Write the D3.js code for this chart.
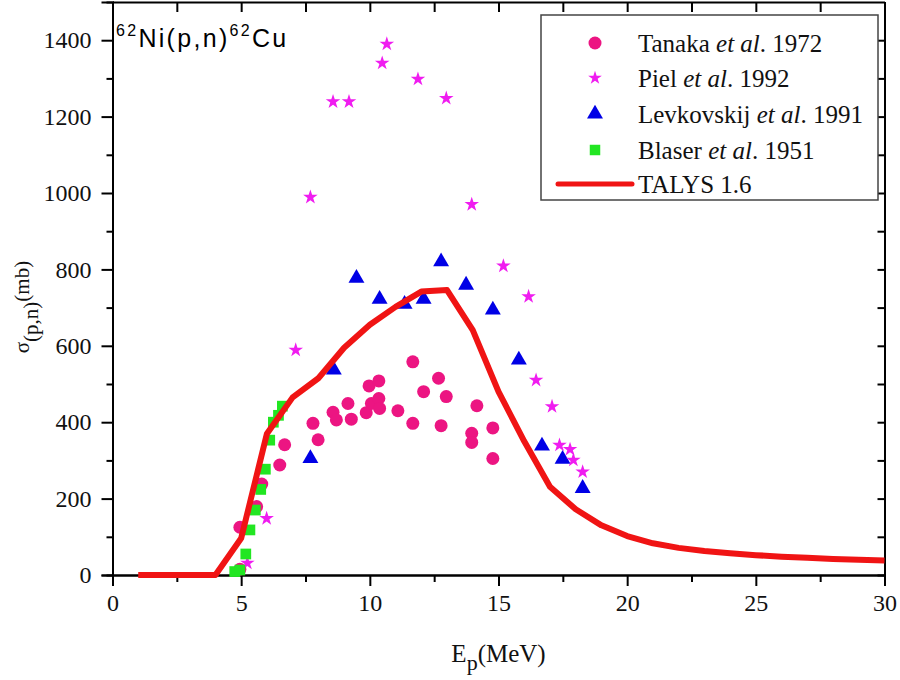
<!DOCTYPE html>
<html>
<head>
<meta charset="utf-8">
<script src="https://cdn.jsdelivr.net/npm/d3@7"></script>
<style>
  html, body { margin: 0; padding: 0; background: #fff; }
  svg { display: block; }
</style>
</head>
<body>
<svg id="chart" width="900" height="680"></svg>
<script>
// Tanaka et al. 1972
const tanakaE = [4.95, 4.95, 5.60, 5.80, 6.50, 6.69, 7.79, 7.99, 8.57, 8.70, 9.15, 9.28, 9.86, 9.97, 10.06,
                 10.35, 10.38, 10.35, 11.09, 11.67, 11.67, 12.09, 12.67, 12.77, 12.97, 13.96, 13.96, 14.16, 14.78, 14.78];
const tanakaS = [15, 125, 179, 238, 288, 341, 397, 354, 426, 406, 449, 408, 425, 495, 449,
                 462, 436, 508, 430, 558, 397, 480, 515, 391, 467, 371, 347, 443, 385, 305];

// Piel et al. 1992
const pielE = [5.24, 5.99, 7.12, 7.69, 8.57, 9.19, 10.48, 10.66, 11.87, 12.97, 13.96, 15.19, 16.17, 16.46, 17.08, 17.37, 17.78, 17.91, 18.27];
const pielS = [31, 148, 589, 989, 1239, 1239, 1340, 1390, 1298, 1248, 970, 809, 729, 510, 441, 340, 329, 301, 270];

// Levkovskij et al. 1991
const levE = [7.69, 8.60, 9.48, 10.38, 11.35, 12.09, 12.77, 13.74, 14.78, 15.79, 16.69, 17.49, 18.27];
const levS = [305, 537, 777, 722, 709, 722, 820, 759, 694, 563, 338, 303, 227];

// Blaser et al. 1951
const blaserE = [4.75, 4.95, 5.18, 5.34, 5.55, 5.76, 5.94, 6.11, 6.25, 6.45, 6.60];
const blaserS = [9, 13, 55, 118, 170, 224, 277, 353, 400, 418, 442];

// TALYS 1.6 calculation
const talysE = [1, 2, 3, 4, 5, 6, 7, 8, 9, 10, 11, 12, 13, 14, 15, 16, 17, 18, 19, 20, 21, 22, 23, 24, 25, 26, 27, 28, 29, 30];
const talysS = [0, 0, 0, 0, 96, 370, 465, 515, 595, 655, 702, 742, 746, 641, 480, 350, 231, 172, 130, 102, 83, 71, 63, 57, 52, 48, 45, 42, 40, 38];

// Axis ticks
const xMajor = [0, 5, 10, 15, 20, 25, 30];
const xMinor = [2.5, 7.5, 12.5, 17.5, 22.5, 27.5];
const yMajor = [0, 200, 400, 600, 800, 1000, 1200, 1400];
const yMinor = [100, 300, 500, 700, 900, 1100, 1300];

const legendLabels = [
  ["Tanaka ", "et al", ". 1972"],
  ["Piel ", "et al", ". 1992"],
  ["Levkovskij ", "et al", ". 1991"],
  ["Blaser ", "et al", ". 1951"],
  ["TALYS 1.6", "", ""]
];

const colors = { tanaka: "#ec1582", piel: "#f01cf0", lev: "#0000e6", blaser: "#22e622", talys: "#f01414" };
const serif = "'Liberation Serif', 'Times New Roman', serif";

const svg = d3.select("#chart");
const L = 112.5, R = 884.5, T = 2, B = 575;
const x = d3.scaleLinear().domain([0, 30]).range([L, R]);
const y = d3.scaleLinear().domain([0, 1500]).range([B, T]);

const zip = (a, b) => a.map((v, i) => [v, b[i]]);

// axes
function styleAxis(g) {
  g.attr("font-family", serif).attr("font-size", 24);
  g.select(".domain").attr("stroke", "#000").attr("stroke-width", 2);
  g.selectAll(".tick line").attr("stroke", "#000").attr("stroke-width", 2);
  g.selectAll(".tick text").attr("fill", "#111");
}
svg.append("g").attr("transform", `translate(0,${B})`)
  .call(d3.axisBottom(x).tickValues(xMajor).tickSize(11).tickPadding(8).tickFormat(d3.format("d")))
  .call(styleAxis);
svg.append("g").attr("transform", `translate(0,${B})`)
  .call(d3.axisBottom(x).tickValues(xMinor).tickSize(7).tickFormat(""))
  .call(styleAxis);
svg.append("g").attr("transform", `translate(${L},0)`)
  .call(d3.axisLeft(y).tickValues(yMajor).tickSize(11).tickPadding(10).tickFormat(d3.format("d")))
  .call(styleAxis);
svg.append("g").attr("transform", `translate(${L},0)`)
  .call(d3.axisLeft(y).tickValues(yMinor).tickSize(6).tickFormat(""))
  .call(styleAxis);
svg.append("g").attr("transform", `translate(0,${T})`)
  .call(d3.axisTop(x).tickValues(xMajor.concat(xMinor)).tickSizeInner(-10).tickSizeOuter(0).tickFormat(""))
  .call(styleAxis);
svg.append("g").attr("transform", `translate(${R},0)`)
  .call(d3.axisRight(y).tickValues(yMajor.concat(yMinor)).tickSizeInner(-7).tickSizeOuter(0).tickFormat(""))
  .call(styleAxis);

// data markers
const plot = svg.append("g");
plot.selectAll("circle.tanaka").data(zip(tanakaE, tanakaS)).join("circle")
  .attr("class", "tanaka").attr("cx", d => x(d[0])).attr("cy", d => y(d[1])).attr("r", 6.5)
  .attr("fill", colors.tanaka);

const tri = d3.symbol().type(d3.symbolTriangle).size(110);
plot.selectAll("path.lev").data(zip(levE, levS)).join("path")
  .attr("class", "lev").attr("d", tri).attr("transform", d => `translate(${x(d[0])},${y(d[1])})`)
  .attr("fill", colors.lev);

const star = d3.symbol().type(d3.symbolStar).size(66);
plot.selectAll("path.piel").data(zip(pielE, pielS)).join("path")
  .attr("class", "piel").attr("d", star).attr("transform", d => `translate(${x(d[0])},${y(d[1])})`)
  .attr("fill", colors.piel);

const sq = d3.symbol().type(d3.symbolSquare).size(115);
plot.selectAll("path.blaser").data(zip(blaserE, blaserS)).join("path")
  .attr("class", "blaser").attr("d", sq).attr("transform", d => `translate(${x(d[0])},${y(d[1])})`)
  .attr("fill", colors.blaser);

// TALYS curve
plot.append("path").datum(zip(talysE, talysS))
  .attr("d", d3.line().x(d => x(d[0])).y(d => y(d[1])))
  .attr("fill", "none").attr("stroke", colors.talys).attr("stroke-width", 6)
  .attr("stroke-linejoin", "round");

// reaction label
const title = svg.append("text").attr("x", 116).attr("y", 47)
  .attr("font-family", "'Liberation Sans', Arial, sans-serif").attr("font-size", 25)
  .attr("letter-spacing", 2.3).attr("fill", "#000");
title.append("tspan").attr("font-size", 16).attr("dy", -11).text("62");
title.append("tspan").attr("dy", 11).text("Ni(p,n)");
title.append("tspan").attr("font-size", 16).attr("dy", -11).text("62");
title.append("tspan").attr("dy", 11).text("Cu");

// legend
const lg = svg.append("g");
lg.append("rect").attr("x", 541).attr("y", 15).attr("width", 337).attr("height", 185)
  .attr("fill", "#fff").attr("stroke", "#444").attr("stroke-width", 1.5);
const rowY = [43, 78, 114, 150, 184];
const symX = 595;
lg.append("circle").attr("cx", symX).attr("cy", rowY[0]).attr("r", 6.5).attr("fill", colors.tanaka);
lg.append("path").attr("d", d3.symbol().type(d3.symbolStar).size(58)).attr("transform", `translate(${symX},${rowY[1]})`).attr("fill", colors.piel);
lg.append("path").attr("d", tri).attr("transform", `translate(${symX},${rowY[2]})`).attr("fill", colors.lev);
lg.append("path").attr("d", d3.symbol().type(d3.symbolSquare).size(110)).attr("transform", `translate(${symX},${rowY[3]})`).attr("fill", colors.blaser);
lg.append("line").attr("x1", 558).attr("x2", 632).attr("y1", rowY[4]).attr("y2", rowY[4])
  .attr("stroke", colors.talys).attr("stroke-width", 5).attr("stroke-linecap", "round");
legendLabels.forEach((lab, i) => {
  const t = lg.append("text").attr("x", 638).attr("y", rowY[i]).attr("dy", "0.35em")
    .attr("font-family", serif).attr("font-size", 25).attr("fill", "#111");
  t.append("tspan").text(lab[0]);
  if (lab[1]) t.append("tspan").attr("font-style", "italic").text(lab[1]);
  if (lab[2]) t.append("tspan").text(lab[2]);
});

// axis titles
const xt = svg.append("text").attr("x", (L + R) / 2).attr("y", 662).attr("text-anchor", "middle")
  .attr("font-family", serif).attr("font-size", 25).attr("fill", "#111");
xt.append("tspan").text("E");
xt.append("tspan").attr("dy", 8).attr("font-size", 22).text("p");
xt.append("tspan").attr("dy", -8).text("(MeV)");

const yt = svg.append("text").attr("transform", "translate(29,307) rotate(-90)").attr("text-anchor", "middle")
  .attr("font-family", serif).attr("font-size", 21).attr("fill", "#111");
yt.append("tspan").text("σ");
yt.append("tspan").attr("dy", 9).text("(p,n)");
yt.append("tspan").attr("dy", -9).text("(mb)");
</script>
</body>
</html>
